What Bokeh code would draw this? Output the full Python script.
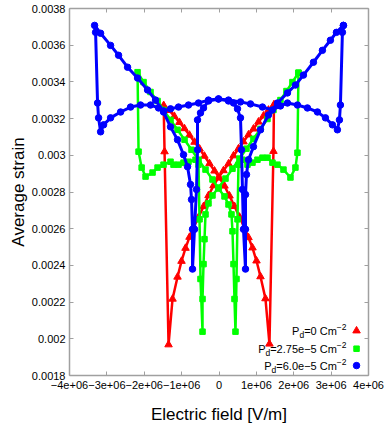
from bokeh.plotting import figure
from bokeh.models import FixedTicker, LinearAxis, Label, Range1d
from bokeh.embed import file_html
from bokeh.resources import INLINE
import numpy as np

# ---------------- data (E in 1e6 V/m, strain) ----------------
red_E = [1.47, 1.324, 1.19, 1.056, 0.922, 0.789, 0.655, 0.521, 0.388, 0.254, 0.120, -0.013,
         -0.147, -0.281, -0.414, -0.548, -0.682, -0.789, -0.896, -1.003, -1.110, -1.243, -1.350,
         -1.457, -1.48,
         -1.33, -1.195, -1.06, -0.925, -0.79, -0.655, -0.52, -0.39, -0.255, -0.12, 0.013,
         0.147, 0.281, 0.414, 0.548, 0.682, 0.789, 0.896, 1.003, 1.110, 1.243, 1.350,
         1.457, 1.47]
red_S = [0.003275, 0.003247, 0.003215, 0.003182, 0.003144, 0.003112, 0.003074, 0.003036, 0.002998,
         0.002954, 0.002917, 0.002879, 0.002835, 0.002781, 0.002721, 0.002662, 0.002608, 0.002554,
         0.002494, 0.002423, 0.002337, 0.002217, 0.001968,
         0.003020, 0.003272,
         0.003245, 0.003213, 0.003180, 0.003146, 0.003110, 0.003072, 0.003035, 0.002996, 0.002955,
         0.002915, 0.002877, 0.002833, 0.002779, 0.002722, 0.002664, 0.002606, 0.002552, 0.002496,
         0.002425, 0.002339, 0.002219, 0.001972,
         0.003022, 0.003275]

green_E = [2.126, 1.965, 1.805, 1.644, 1.457, 1.297, 1.110, 0.922, 0.735, 0.548, 0.361, 0.174,
           -0.013, -0.174, -0.281, -0.361, -0.388, -0.414, -0.441, -0.441, -0.495, -0.521, -0.548,
           -0.628, -0.816, -0.949, -1.083, -1.217, -1.297, -1.484, -1.644, -1.778, -1.965, -2.070,
           -2.152, -2.179,
           -2.019, -1.832, -1.644, -1.484, -1.297, -1.110, -0.922, -0.735, -0.548, -0.361, -0.174,
           -0.013, 0.147, 0.254, 0.334, 0.361, 0.388, 0.414, 0.441, 0.468, 0.495, 0.521,
           0.628, 0.762, 0.896, 1.029, 1.163, 1.297, 1.430, 1.564, 1.725, 1.912, 2.045, 2.099, 2.126]
green_S = [0.003450, 0.003399, 0.003350, 0.003301, 0.003247, 0.003198, 0.003144, 0.003090, 0.003036,
           0.002982, 0.002927, 0.002873, 0.002824, 0.002781, 0.002738, 0.002678, 0.002543, 0.002407,
           0.002217, 0.002039, 0.002326, 0.002651, 0.002949,
           0.002976, 0.002965, 0.002960, 0.002949, 0.002949, 0.002965, 0.002949, 0.002933, 0.002906,
           0.002884, 0.002933, 0.003020, 0.003453,
           0.003399, 0.003345, 0.003296, 0.003247, 0.003193, 0.003139, 0.003085, 0.003030, 0.002976,
           0.002922, 0.002868, 0.002819, 0.002776, 0.002732, 0.002678, 0.002586, 0.002407, 0.002217,
           0.002039, 0.002326, 0.002651, 0.002949,
           0.002976, 0.002949, 0.002960, 0.002976, 0.002987, 0.002987, 0.002960, 0.002949, 0.002922,
           0.002879, 0.002933, 0.003014, 0.003450]

blue_E = [3.329, 3.142, 2.981, 2.767, 2.527, 2.259, 2.045, 1.832, 1.564, 1.324, 1.110, 0.922,
          0.789, 0.735, 0.709, 0.709, 0.709, 0.655, 0.628, 0.602, 0.575, 0.495, 0.388, 0.254,
          -0.013, -0.281, -0.548, -0.816, -1.083, -1.297, -1.484, -1.618, -1.832, -2.099, -2.366,
          -2.633, -2.901, -3.088, -3.168, -3.222, -3.249, -3.302, -3.329,
          -3.168, -2.901, -2.687, -2.446, -2.179, -1.912, -1.698, -1.484, -1.297, -1.110, -0.949,
          -0.842, -0.762, -0.735, -0.709, -0.709, -0.655, -0.602, -0.575, -0.575, -0.495, -0.414,
          -0.281, -0.013, 0.254, 0.575, 0.842, 1.163, 1.430, 1.644, 1.832, 2.099, 2.366, 2.634,
          2.848, 3.035, 3.168, 3.222, 3.249, 3.302, 3.329]
blue_S = [0.003708, 0.003670, 0.003627, 0.003572, 0.003507, 0.003437, 0.003383, 0.003340, 0.003285,
          0.003220, 0.003139, 0.003047, 0.002976, 0.002895, 0.002786, 0.002597, 0.002380, 0.002597,
          0.002814, 0.003030, 0.003204, 0.003253, 0.003285, 0.003296,
          0.003307, 0.003301, 0.003285, 0.003274, 0.003263, 0.003253, 0.003242, 0.003258, 0.003274,
          0.003274, 0.003263, 0.003236, 0.003204, 0.003166, 0.003128, 0.003204, 0.003285, 0.003670,
          0.003708,
          0.003665, 0.003599, 0.003545, 0.003480, 0.003421, 0.003356, 0.003301, 0.003236, 0.003155,
          0.003085, 0.003003, 0.002938, 0.002841, 0.002759, 0.002597, 0.002380, 0.002597, 0.002814,
          0.003030, 0.003193, 0.003231, 0.003258, 0.003296, 0.003307, 0.003301, 0.003291, 0.003280,
          0.003263, 0.003247, 0.003269, 0.003285, 0.003274, 0.003258, 0.003236, 0.003204, 0.003166,
          0.003139, 0.003193, 0.003274, 0.003670, 0.003708]

x_ticks = [-4e6, -3e6, -2e6, -1e6, 0, 1e6, 2e6, 3e6, 4e6]
x_tick_labels = ["\u22124e+06", "\u22123e+06", "\u22122e+06", "\u22121e+06", "0",
                 "1e+06", "2e+06", "3e+06", "4e+06"]
y_ticks = [0.0018, 0.002, 0.0022, 0.0024, 0.0026, 0.0028, 0.003, 0.0032, 0.0034, 0.0036, 0.0038]
y_tick_labels = ["0.0018", "0.002", "0.0022", "0.0024", "0.0026", "0.0028", "0.003",
                 "0.0032", "0.0034", "0.0036", "0.0038"]

legend_main = ["=0 Cm", "=2.75e\u22125 Cm", "=6.0e\u22125 Cm"]

FONT = "Liberation Sans"
AX = "#a0a0a0"

p = figure(width=392, height=426, x_range=Range1d(-4e6, 4e6), y_range=Range1d(0.0018, 0.0038),
           output_backend="svg", toolbar_location=None,
           min_border_left=69, min_border_right=24, min_border_top=8, min_border_bottom=49)
p.xgrid.visible = False
p.ygrid.visible = False
p.outline_line_color = None
p.background_fill_color = "white"


def style_axis(ax, ticks, labels, show_labels=True):
    ax.ticker = FixedTicker(ticks=ticks)
    ax.axis_line_color = AX
    ax.axis_line_width = 1.5
    ax.major_tick_line_color = AX
    ax.major_tick_line_width = 1
    ax.major_tick_in = 4
    ax.major_tick_out = 0
    ax.minor_tick_line_color = None
    ax.major_label_text_font = FONT
    ax.major_label_text_color = "black"
    if show_labels:
        ax.major_label_overrides = {t: l for t, l in zip(ticks, labels)}
        ax.major_label_text_font_size = "11px"
    else:
        ax.major_label_overrides = {t: "" for t in ticks}
        ax.major_label_text_font_size = "1px"
        ax.major_label_standoff = 0


style_axis(p.xaxis[0], x_ticks, x_tick_labels)
style_axis(p.yaxis[0], y_ticks, y_tick_labels)
p.xaxis.major_label_standoff = 5
p.yaxis.major_label_standoff = 4
p.xaxis.axis_label = "Electric field [V/m]"
p.yaxis.axis_label = "Average strain"
for ax in (p.xaxis[0], p.yaxis[0]):
    ax.axis_label_text_font = FONT
    ax.axis_label_text_font_size = "17px"
    ax.axis_label_text_font_style = "normal"
    ax.axis_label_text_color = "black"
p.xaxis.axis_label_standoff = 13
p.yaxis.axis_label_standoff = 1

top = LinearAxis()
style_axis(top, x_ticks, x_tick_labels, show_labels=False)
p.add_layout(top, "above")
right = LinearAxis()
style_axis(right, y_ticks, y_tick_labels, show_labels=False)
p.add_layout(right, "right")

series = [
    (red_E, red_S, "red", "triangle", 7.5, 2.5),
    (green_E, green_S, "#00ff00", "square", 5.5, 2.5),
    (blue_E, blue_S, "blue", "circle", 6.5, 3.0),
]
for E, S, col, mk, sz, lw in series:
    x = np.array(E) * 1e6
    p.line(x, S, line_color=col, line_width=lw, line_join="round")
    p.scatter(x, S, marker=mk, size=sz, fill_color=col, line_color=col)

# legend (bottom-right, text then marker)
LEG_X = 3.68e6
LEG_Y = [0.002044, 0.001946, 0.001854]
main_w = [32.7, 66.6, 60.5]
for (E, S, col, mk, sz, lw), ly, txt, w in zip(series, LEG_Y, legend_main, main_w):
    p.scatter([LEG_X], [ly], marker=mk, size=sz, fill_color=col, line_color=col)
    common = dict(x=LEG_X, y=ly, text_font=FONT, text_color="black", text_align="right",
                  text_baseline="middle")
    p.add_layout(Label(text="\u22122", x_offset=-10, y_offset=4, text_font_size="8.5px", **common))
    p.add_layout(Label(text=txt, x_offset=-19.7, y_offset=0, text_font_size="11px", **common))
    p.add_layout(Label(text="d", x_offset=-19.7 - w, y_offset=-4, text_font_size="8.5px", **common))
    p.add_layout(Label(text="P", x_offset=-19.7 - w - 4.7, y_offset=0, text_font_size="11px", **common))

open("out.html", "w").write(file_html(p, INLINE))
